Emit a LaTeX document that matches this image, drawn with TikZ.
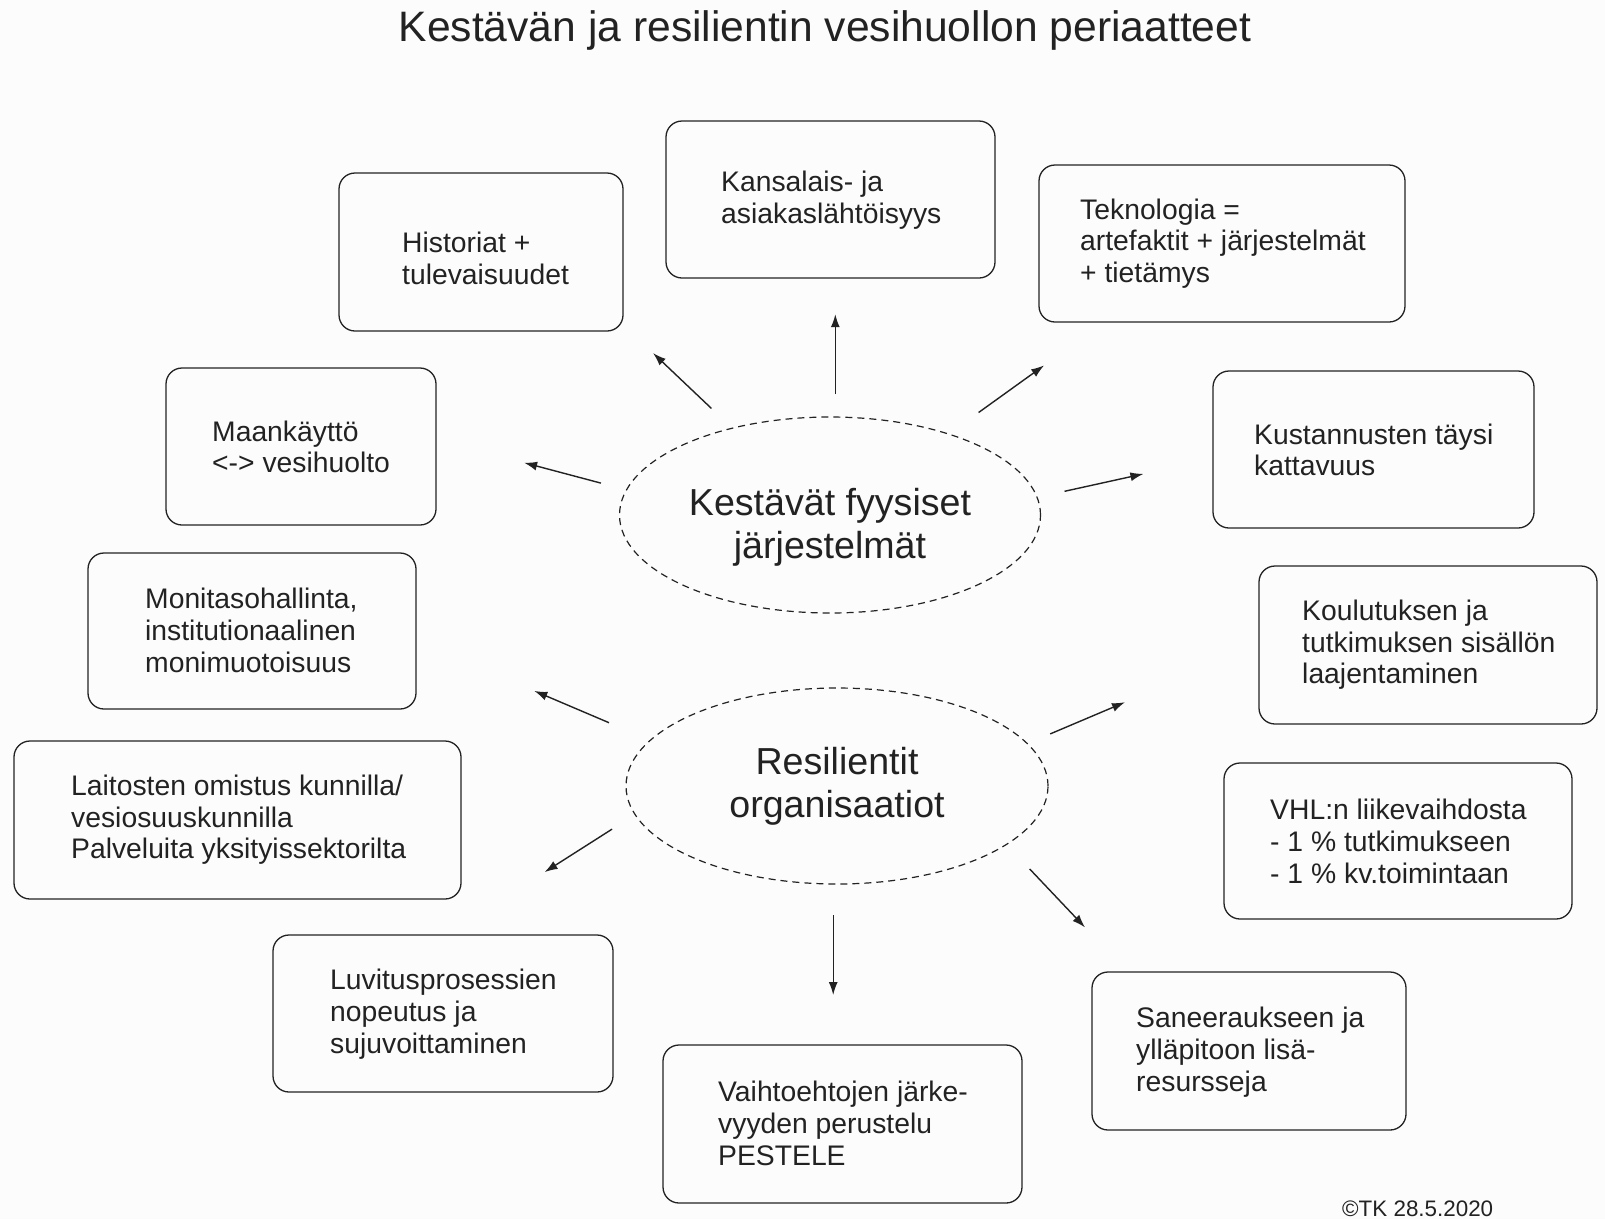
\documentclass[tikz,border=0pt]{standalone}
\usepackage{fontspec}
\setmainfont{Liberation Sans}
\usetikzlibrary{arrows.meta,shapes.geometric}
\definecolor{ink}{HTML}{222222}
\definecolor{bg}{HTML}{FCFCFC}
\begin{document}
\begin{tikzpicture}[x=1pt,y=-1pt,
 box/.style={draw=ink, line width=1.3pt, rounded corners=16pt, inner sep=0pt, minimum height=157pt},
 txt/.style={anchor=west, align=left, inner sep=0pt, text=ink, font=\fontsize{28.3}{31.7}\selectfont},
 oval/.style={ellipse, draw=ink, dash pattern=on 7pt off 5pt, line width=1.2pt, inner sep=0pt},
 ovaltxt/.style={align=center, inner sep=0pt, text=ink, font=\fontsize{37.6}{43}\selectfont},
 arr/.style={draw=ink, line width=1.4pt, -{Latex[length=13pt,width=9pt]}}]
\useasboundingbox[fill=bg] (0,0) rectangle (1605,1219);

\node[anchor=base, inner sep=0pt, text=ink, font=\fontsize{42.6}{50}\selectfont] (title) at (825,41) {Kestävän ja resilientin vesihuollon periaatteet};

% boxes
\node[box, minimum width=284pt, minimum height=158pt] (b1) at (481,252) {};
\node[box, minimum width=329pt] (b2) at (830.5,199.5) {};
\node[box, minimum width=366pt] (b3) at (1222,243.5) {};
\node[box, minimum width=270pt] (b4) at (301,446.5) {};
\node[box, minimum width=321pt] (b5) at (1373.5,449.5) {};
\node[box, minimum width=328pt, minimum height=156pt] (b6) at (252,631) {};
\node[box, minimum width=338pt, minimum height=158pt] (b7) at (1428,645) {};
\node[box, minimum width=447pt, minimum height=158pt] (b8) at (237.5,820) {};
\node[box, minimum width=348pt, minimum height=156pt] (b9) at (1398,841) {};
\node[box, minimum width=340pt] (b10) at (443,1013.5) {};
\node[box, minimum width=314pt, minimum height=158pt] (b11) at (1249,1051) {};
\node[box, minimum width=359pt, minimum height=158pt] (b12) at (842.5,1124) {};

% texts
\node[txt] (t1) at (402,258.5) {Historiat +\\tulevaisuudet};
\node[txt] (t2) at (721,200) {Kansalais- ja\\asiakaslähtöisyys};
\node[txt] (t3) at (1080,243.6) {Teknologia =\\artefaktit + järjestelmät\\+ tietämys};
\node[txt] (t4) at (212,446.8) {Maankäyttö\\<-> vesihuolto};
\node[txt] (t5) at (1254,449.9) {Kustannusten täysi\\kattavuus};
\node[txt] (t6) at (145,630.5) {Monitasohallinta,\\institutionaalinen\\monimuotoisuus};
\node[txt] (t7) at (1302,644.8) {Koulutuksen ja\\tutkimuksen sisällön\\laajentaminen};
\node[txt] (t8) at (71,819.9) {Laitosten omistus kunnilla/\\vesiosuuskunnilla\\Palveluita yksityissektorilta};
\node[txt] (t9) at (1270,841.4) {VHL:n liikevaihdosta\\- 1 \% tutkimukseen\\- 1 \% kv.toimintaan};
\node[txt] (t10) at (330,1014.3) {Luvitusprosessien\\nopeutus ja\\sujuvoittaminen};
\node[txt] (t11) at (1136,1052.2) {Saneeraukseen ja\\ylläpitoon lisä-\\resursseja};
\node[txt] (t12) at (718,1123.4) {Vaihtoehtojen järke-\\vyyden perustelu\\PESTELE};

% ellipses
\node[oval, minimum width=421pt, minimum height=196pt] (e1) at (830,515) {};
\node[ovaltxt] (e1t) at (830,527) {Kestävät fyysiset\\järjestelmät};
\node[oval, minimum width=422pt, minimum height=196pt] (e2) at (837,786) {};
\node[ovaltxt] (e2t) at (837,786) {Resilientit\\organisaatiot};

% arrows
\coordinate (a1s) at (711.4,408.4); \coordinate (a1e) at (653.1,353.1);
\coordinate (a2s) at (835.3,394.1); \coordinate (a2e) at (835.3,314.2);
\coordinate (a3s) at (978.6,412.5); \coordinate (a3e) at (1044.1,365.4);
\coordinate (a4s) at (600.9,483.1); \coordinate (a4e) at (524.1,462.7);
\coordinate (a5s) at (1064.5,491.3); \coordinate (a5e) at (1143.4,473.9);
\coordinate (c1s) at (609.0,722.7); \coordinate (c1e) at (534.3,690.9);
\coordinate (c2s) at (1050.2,733.9); \coordinate (c2e) at (1125.0,702.2);
\coordinate (c3s) at (612.1,829.1); \coordinate (c3e) at (544.6,872.1);
\coordinate (c4s) at (833.2,915.1); \coordinate (c4e) at (833.2,995.0);
\coordinate (c5s) at (1029.7,869.0); \coordinate (c5e) at (1085.0,927.4);
\foreach \n in {a1,a2,a3,a4,a5,c1,c2,c3,c4,c5} \draw[arr] (\n s) -- (\n e);

\node[anchor=base west, inner sep=0pt, text=ink, font=\fontsize{22.4}{26}\selectfont] (copy) at (1342,1216) {©TK 28.5.2020};
\end{tikzpicture}
\end{document}
